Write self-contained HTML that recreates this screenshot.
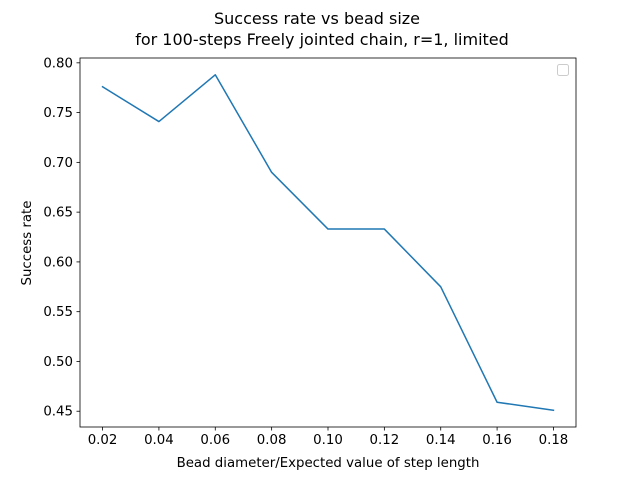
<!DOCTYPE html>
<html><head><meta charset="utf-8"><style>
html,body{margin:0;padding:0;background:#fff;}
svg{display:block;font-family:"DejaVu Sans","Liberation Sans",sans-serif;}
</style></head><body>
<svg id="chart" width="640" height="480">
<rect width="640" height="480" fill="#fff"/>
<text x="317" y="24" text-anchor="middle" font-size="16">Success rate vs bead size</text>
<text x="322" y="45" text-anchor="middle" font-size="16">for 100-steps Freely jointed chain, r=1, limited</text>
<g id="axes"></g>
<rect x="557.5" y="64.5" width="11" height="11" rx="2" fill="#fff" stroke="#ccc"/>
<text x="328" y="467" text-anchor="middle" font-size="13.33">Bead diameter/Expected value of step length</text>
<text transform="translate(31,243) rotate(-90)" text-anchor="middle" font-size="13.33">Success rate</text>
</svg>
<script>
const xValues=[0.02,0.04,0.06,0.08,0.10,0.12,0.14,0.16,0.18];
const yValues=[0.776,0.741,0.788,0.690,0.633,0.633,0.575,0.459,0.451];
const xTicks=[0.02,0.04,0.06,0.08,0.10,0.12,0.14,0.16,0.18];
const yTicks=[0.45,0.50,0.55,0.60,0.65,0.70,0.75,0.80];
const L=80,R=576,T=58,B=427;
const xmin=Math.min(...xValues),xmax=Math.max(...xValues),ymin=Math.min(...yValues),ymax=Math.max(...yValues);
const xr=xmax-xmin,yr=ymax-ymin;
const x0=xmin-0.05*xr,x1=xmax+0.05*xr,y0=ymin-0.05*yr,y1=ymax+0.05*yr;
const sx=v=>L+(v-x0)/(x1-x0)*(R-L);
const sy=v=>B-(v-y0)/(y1-y0)*(B-T);
const NS='http://www.w3.org/2000/svg';
const g=document.getElementById('axes');
function mk(tag,attrs){const e=document.createElementNS(NS,tag);for(const k in attrs)e.setAttribute(k,attrs[k]);g.appendChild(e);return e;}
xTicks.forEach(t=>{const x=sx(t);
const l=mk('line',{x1:x,x2:x,y1:B,y2:B+3.5,stroke:'#000','stroke-width':0.8});


const tx=mk('text',{x:x,y:B+17,'text-anchor':'middle','font-size':13.33});tx.textContent=t.toFixed(2);


});
yTicks.forEach(t=>{const y=sy(t);
const l=mk('line',{x1:L-3.5,x2:L,y1:y,y2:y,stroke:'#000','stroke-width':0.8});


const tx=mk('text',{x:L-7,y:y+4.5,'text-anchor':'end','font-size':13.33});tx.textContent=t.toFixed(2);


});
const pts=xValues.map((v,i)=>sx(v).toFixed(2)+','+sy(yValues[i]).toFixed(2)).join(' ');
const pl=mk('polyline',{points:pts,fill:'none',stroke:'#1f77b4','stroke-width':1.5,'stroke-linejoin':'round','stroke-linecap':'square'});


const fr=mk('rect',{x:L,y:T,width:R-L,height:B-T,fill:'none',stroke:'#000','stroke-width':0.8});


</script>
</body></html>
